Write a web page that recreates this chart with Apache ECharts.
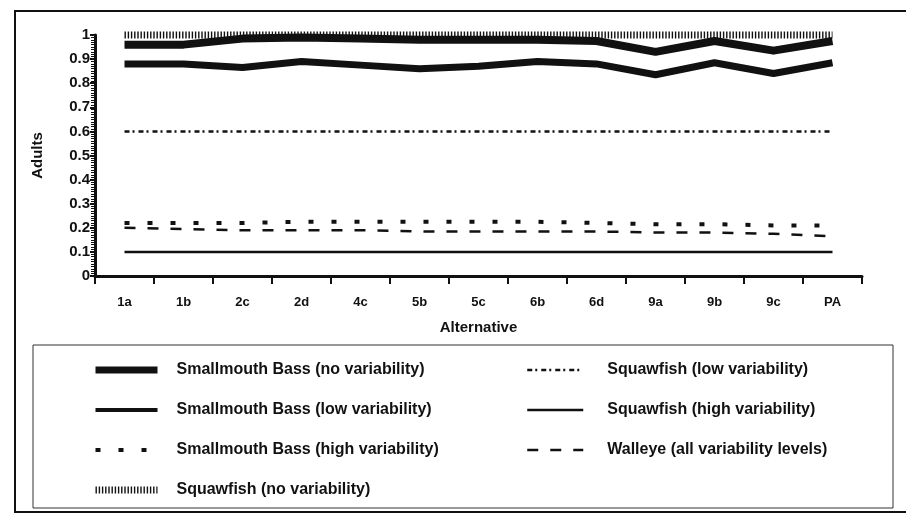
<!DOCTYPE html>
<html>
<head>
<meta charset="utf-8">
<script src="https://cdn.jsdelivr.net/npm/echarts@6/dist/echarts.min.js"></script>
<style>
  html, body { margin: 0; padding: 0; background: #fff; }
  #chart { width: 906px; height: 516px; }
</style>
</head>
<body>
<div id="chart"></div>
<script>
// Alternatives along the x axis
const categories = ['1a', '1b', '2c', '2d', '4c', '5b', '5c', '6b', '6d', '9a', '9b', '9c', 'PA'];

// Proportion of adults, per alternative
const smbNoVar   = [0.96, 0.96, 0.985, 0.99, 0.985, 0.98, 0.98, 0.98, 0.975, 0.93, 0.975, 0.935, 0.975];
const smbLowVar  = [0.88, 0.88, 0.865, 0.89, 0.875, 0.86, 0.87, 0.89, 0.88, 0.835, 0.885, 0.84, 0.885];
const smbHighVar = [0.22, 0.22, 0.22, 0.225, 0.225, 0.225, 0.225, 0.225, 0.22, 0.215, 0.215, 0.21, 0.21];
const sqNoVar    = [1, 1, 1, 1, 1, 1, 1, 1, 1, 1, 1, 1, 1];
const sqLowVar   = [0.6, 0.6, 0.6, 0.6, 0.6, 0.6, 0.6, 0.6, 0.6, 0.6, 0.6, 0.6, 0.6];
const sqHighVar  = [0.1, 0.1, 0.1, 0.1, 0.1, 0.1, 0.1, 0.1, 0.1, 0.1, 0.1, 0.1, 0.1];
const walleye    = [0.2, 0.195, 0.19, 0.19, 0.19, 0.185, 0.185, 0.185, 0.185, 0.18, 0.18, 0.175, 0.165];

// Y axis tick values
const yTicks = [0, 0.1, 0.2, 0.3, 0.4, 0.5, 0.6, 0.7, 0.8, 0.9, 1];

const names = {
  smbNo: 'Smallmouth Bass (no variability)',
  smbLow: 'Smallmouth Bass (low variability)',
  smbHigh: 'Smallmouth Bass (high variability)',
  sqNo: 'Squawfish (no variability)',
  sqLow: 'Squawfish (low variability)',
  sqHigh: 'Squawfish (high variability)',
  wal: 'Walleye (all variability levels)'
};

const FONT = '"Liberation Sans", Arial, sans-serif';
const INK = '#111';

function line(name, data, lineStyle, z) {
  return {
    name: name,
    type: 'line',
    data: data,
    symbol: 'none',
    clip: false,
    z: z || 2,
    smooth: false,
    lineStyle: Object.assign({ color: INK, cap: 'butt', join: 'round' }, lineStyle),
    itemStyle: { color: INK },
    emphasis: { disabled: true }
  };
}

const chart = echarts.init(document.getElementById('chart'), null, { renderer: 'canvas' });

const legendText = { fontFamily: FONT, fontWeight: 'bold', fontSize: 16, color: INK, lineHeight: 16 };
// the legend keys show only the line pattern, no point marker
const legendItemStyle = { opacity: 0, borderWidth: 0 };

chart.setOption({
  animation: false,
  backgroundColor: '#fff',
  grid: { left: 95, right: 44, top: 35, bottom: 240, containLabel: false },
  xAxis: {
    type: 'category',
    data: categories,
    boundaryGap: true,
    name: 'Alternative',
    nameLocation: 'middle',
    nameGap: 44,
    nameTextStyle: { fontFamily: FONT, fontWeight: 'bold', fontSize: 15, color: INK },
    axisLine: { lineStyle: { color: INK, width: 3 } },
    axisTick: { show: true, length: 8, inside: false, interval: 0, lineStyle: { color: INK, width: 2 } },
    axisLabel: { fontFamily: FONT, fontWeight: 'bold', fontSize: 13, color: INK, margin: 20, interval: 0 },
    splitLine: { show: false }
  },
  yAxis: [
    {
      type: 'value',
      min: 0,
      max: 1,
      interval: 0.1,
      name: 'Adults',
      nameLocation: 'middle',
      nameGap: 50,
      nameRotate: 90,
      nameTextStyle: { fontFamily: FONT, fontWeight: 'bold', fontSize: 15, color: INK },
      axisLine: { show: true, lineStyle: { color: INK, width: 3 } },
      axisTick: { show: true, length: 5, inside: false, lineStyle: { color: INK, width: 2 } },
      axisLabel: {
        fontFamily: FONT, fontWeight: 'bold', fontSize: 15, color: INK, margin: 5,
        formatter: function (v) {
          const t = yTicks.find(function (k) { return Math.abs(k - v) < 1e-6; });
          return t === undefined ? '' : String(t);
        }
      },
      splitLine: { show: false }
    },
    {
      // fine ruler ticks on the inside of the value axis
      type: 'value',
      min: 0,
      max: 1,
      interval: 0.1,
      position: 'left',
      axisLine: { show: false },
      axisTick: { show: false },
      axisLabel: { show: false },
      minorTick: { show: true, splitNumber: 10, length: 4, lineStyle: { color: INK, width: 1 } },
      splitLine: { show: false }
    }
  ],
  legend: [
    {
      orient: 'vertical',
      left: 92,
      top: 362,
      padding: 0,
      itemWidth: 62,
      itemHeight: 16,
      itemGap: 24,
      selectedMode: false,
      itemStyle: legendItemStyle,
      textStyle: Object.assign({ padding: [0, 0, 0, 14] }, legendText),
      data: [
        { name: names.smbNo, lineStyle: { width: 7 } },
        { name: names.smbLow, lineStyle: { width: 4 } },
        { name: names.smbHigh, lineStyle: { width: 4 } },
        { name: names.sqNo, lineStyle: { width: 7 } }
      ]
    },
    {
      orient: 'vertical',
      left: 526,
      top: 362,
      padding: 0,
      itemWidth: 56,
      itemHeight: 16,
      itemGap: 24,
      selectedMode: false,
      itemStyle: legendItemStyle,
      textStyle: Object.assign({ padding: [0, 0, 0, 19] }, legendText),
      data: [
        { name: names.sqLow, lineStyle: { width: 2.5 } },
        { name: names.sqHigh, lineStyle: { width: 2.5 } },
        { name: names.wal, lineStyle: { width: 2.5 } }
      ]
    }
  ],
  graphic: [
    {
      type: 'rect',
      shape: { x: 15, y: 11, width: 900, height: 501 },
      style: { fill: 'none', stroke: INK, lineWidth: 2 },
      silent: true,
      z: 0
    },
    {
      type: 'rect',
      shape: { x: 33, y: 345, width: 860, height: 163 },
      style: { fill: 'none', stroke: '#333', lineWidth: 1 },
      silent: true,
      z: 0
    }
  ],
  series: [
    line(names.smbNo, smbNoVar, { width: 8 }, 2),
    line(names.smbLow, smbLowVar, { width: 7 }, 2),
    line(names.smbHigh, smbHighVar, { width: 4, type: [5, 18] }, 2),
    line(names.sqNo, sqNoVar, { width: 7, type: [1.4, 1.8] }, 3),
    line(names.sqLow, sqLowVar, { width: 2.5, type: [5, 3, 2, 4] }, 2),
    line(names.sqHigh, sqHighVar, { width: 2.5 }, 2),
    line(names.wal, walleye, { width: 2.5, type: [11, 12] }, 2)
  ]
});
</script>
</body>
</html>
